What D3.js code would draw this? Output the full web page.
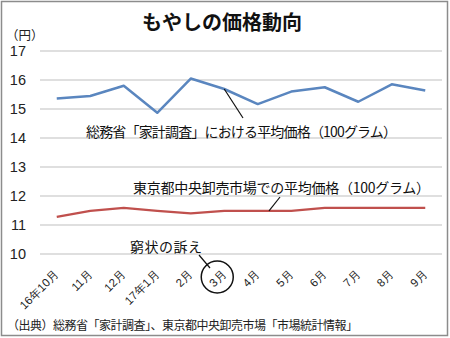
<!DOCTYPE html>
<html><head><meta charset="utf-8">
<script src="https://cdn.jsdelivr.net/npm/d3@7"></script>
<style>body{margin:0;background:#fff}svg{display:block;font-family:"Noto Sans CJK JP","Noto Sans",sans-serif}</style>
</head><body><svg id="c" width="450" height="338"></svg>
<script>
const categories = ["16年10月","11月","12月","17年1月","2月","3月","4月","5月","6月","7月","8月","9月"];
const householdSurvey = [15.36,15.45,15.8,14.87,16.05,15.69,15.17,15.6,15.75,15.25,15.85,15.64];
const tokyoMarket = [11.28,11.49,11.59,11.49,11.4,11.49,11.49,11.49,11.59,11.59,11.59,11.59];
const yTicks = [10,11,12,13,14,15,16,17];

const svg = d3.select("#c");
svg.append("rect").attr("x",1.5).attr("y",1.5).attr("width",446).attr("height",334)
  .attr("fill","#fff").attr("stroke","#8c8c8c").attr("stroke-width",1.5);

const x = d3.scaleBand().domain(categories).range([40,442]);
const y = d3.scaleLinear().domain([10,17]).range([254,51]);
const cx = d => x(d) + x.bandwidth()/2;

// gridlines
svg.append("g").selectAll("line").data(yTicks).join("line")
  .attr("x1",40).attr("x2",442).attr("y1",d=>y(d)).attr("y2",d=>y(d))
  .attr("stroke","#d4d4d4").attr("stroke-width",1.3);

// y axis labels
const yAxis = d3.axisLeft(y).tickValues(yTicks).tickSize(0).tickPadding(0).tickFormat(d3.format("d"));
const ga = svg.append("g").attr("transform","translate(26,0)").call(yAxis);
ga.select(".domain").remove();
ga.selectAll("text").attr("font-size",14.5).attr("fill","#222").attr("font-family","Liberation Sans, Arial, sans-serif");

svg.append("text").attr("x",6).attr("y",40).attr("font-size",12.5).attr("fill","#222").text("（円）");

// title
svg.append("text").attr("x",222).attr("y",30).attr("text-anchor","middle")
  .attr("font-size",20).attr("font-weight","bold").attr("fill","#111").text("もやしの価格動向");

// x labels
const xAxis = d3.axisBottom(x).tickSize(0).tickPadding(0);
const gx = svg.append("g").attr("transform","translate(0,272)").call(xAxis);
gx.select(".domain").remove();
gx.selectAll("text").attr("text-anchor","end").attr("font-size",11.5).attr("fill","#222")
  .attr("dy","0.35em")
  .attr("transform","translate(0,0) rotate(-45)");

const line = d3.line().x((d,i)=>cx(categories[i])).y(d=>y(d));
svg.append("path").datum(householdSurvey).attr("d",line).attr("fill","none")
  .attr("stroke","#5a86bf").attr("stroke-width",2.5).attr("stroke-linejoin","round");
svg.append("path").datum(tokyoMarket).attr("d",line).attr("fill","none")
  .attr("stroke","#c0504d").attr("stroke-width",2.3).attr("stroke-linejoin","round");

// annotations
const ann = svg.append("g").attr("fill","#111");
ann.append("text").attr("x",86).attr("y",137).attr("font-size",14)
  .attr("textLength",311).attr("lengthAdjust","spacing").text("総務省「家計調査」における平均価格（100グラム）");
ann.append("text").attr("x",133).attr("y",193).attr("font-size",14)
  .attr("textLength",297).attr("lengthAdjust","spacing").text("東京都中央卸売市場での平均価格（100グラム）");
ann.append("text").attr("x",130).attr("y",252).attr("font-size",14)
  .attr("textLength",72).attr("lengthAdjust","spacing").text("窮状の訴え");

const i3 = categories.indexOf("3月");
svg.append("line").attr("x1",cx(categories[i3])).attr("y1",y(householdSurvey[i3]))
  .attr("x2",243).attr("y2",118).attr("stroke","#111").attr("stroke-width",1.2);
svg.append("line").attr("x1",269).attr("y1",y(tokyoMarket[6]))
  .attr("x2",280).attr("y2",197).attr("stroke","#111").attr("stroke-width",1.2);
svg.append("line").attr("x1",199).attr("y1",255).attr("x2",210).attr("y2",268)
  .attr("stroke","#111").attr("stroke-width",1.2);
svg.append("circle").attr("cx",cx(categories[i3])-7).attr("cy",277).attr("r",16)
  .attr("fill","none").attr("stroke","#111").attr("stroke-width",1.5);

svg.append("text").attr("x",7).attr("y",330).attr("font-size",12).attr("fill","#222")
  .attr("textLength",351).attr("lengthAdjust","spacing")
  .text("（出典）総務省「家計調査」、東京都中央卸売市場「市場統計情報」");
</script></body></html>
